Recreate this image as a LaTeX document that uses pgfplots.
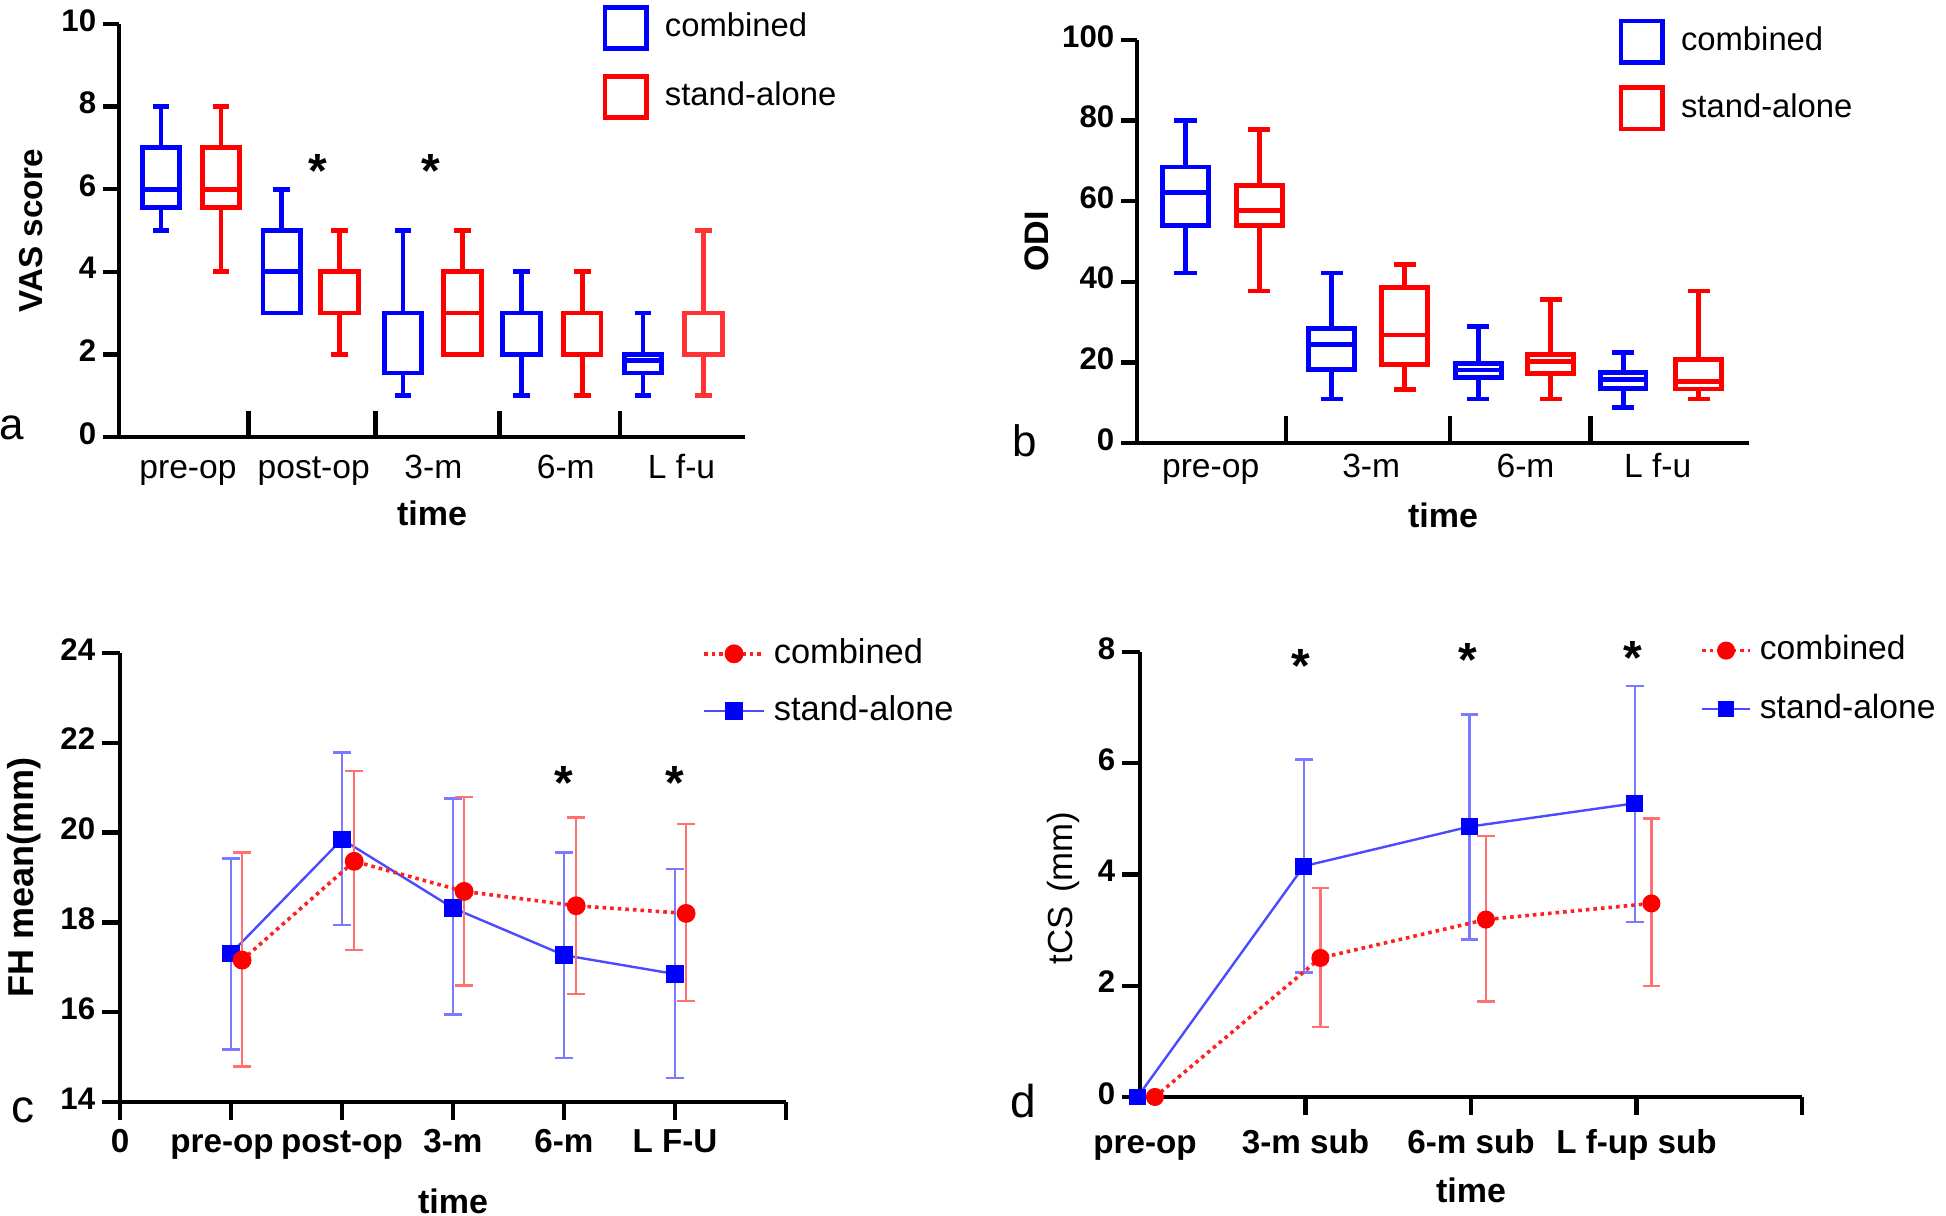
\documentclass[border=0pt]{standalone}
\usepackage{fontspec}
\setmainfont{Liberation Sans}
\usepackage{pgfplots}
\pgfplotsset{compat=1.18}
\usepgfplotslibrary{statistics}
\definecolor{cb}{HTML}{0000FF}
\definecolor{cr}{HTML}{FF0000}
\definecolor{cbl}{HTML}{4A4AFF}
\definecolor{cbe}{HTML}{7A7AFF}
\definecolor{crl}{HTML}{FF2020}
\definecolor{cre}{HTML}{FF7070}

\tikzset{astk/.style={font=\bfseries\fontsize{12}{12}\selectfont}}
\pgfplotsset{
  panel/.style={
    scale only axis, axis lines=left, axis line style={-, line width=1.2pt},
    clip=false, tick align=outside, xtick pos=bottom, ytick pos=left,
    major tick style={line width=1.1pt, black}, major tick length=4pt,
    /pgf/number format/assume math mode=true,
    typeset ticklabels with strut,
    yticklabel style={font=\bfseries\fontsize{7.8}{9}\selectfont, inner xsep=1.5pt},
    xticklabel style={font=\fontsize{8.4}{10}\selectfont},
    xlabel style={font=\bfseries\fontsize{8.5}{10}\selectfont, anchor=center},
    ylabel style={anchor=center},
    legend style={draw=none, fill=none, anchor=north west,
      font=\fontsize{8.2}{10}\selectfont, row sep=5pt},
    legend cell align=left,
  },
  bx/.style={line width=1.2pt, forget plot, boxplot/draw direction=y},
  boxleg/.style={legend image code/.code={\draw[#1,line width=1.2pt] (0pt,-5.2pt) rectangle (10.4pt,5.2pt); \path[draw=none] (10.4pt,0pt) -- (13pt,0pt);}},
}

\begin{document}
\begin{tikzpicture}
\path[use as bounding box] (0,0) rectangle (486.5pt,304pt);

% ---- a: VAS
\begin{axis}[panel, at={(29.75pt,194.75pt)}, anchor=south west,
  width=156.5pt, height=103.25pt,
  xmin=0, xmax=11.35, ymin=0, ymax=10, ytick={0,2,...,10},
  xtick={1.25,3.53,5.70,8.10,10.20}, xticklabels={pre-op,post-op,3-m,6-m,L f-u},
  xtick style={draw=none}, xticklabel style={yshift=4.2pt},
  extra x ticks={2.35,4.65,6.90,9.08}, extra x tick labels={},
  extra x tick style={major tick length=6.5pt, tick align=inside, xtick style={draw=black}},
  xlabel={time}, xlabel style={at={(axis description cs:0.5,-0.184)}},
  ylabel={\bfseries VAS score}, ylabel style={font=\fontsize{8.3}{10}\selectfont, at={(axis description cs:-0.141,0.5)}},
  legend style={at={(0.752,1.068)}, row sep=5.7pt}]
\addlegendimage{boxleg=cb}
\addlegendentry{combined}
\addlegendimage{boxleg=cr}
\addlegendentry{stand-alone}
\addplot[cb, bx, boxplot prepared={draw direction=y, draw position=0.76, lower whisker=5, lower quartile=5.55, median=6, upper quartile=7, upper whisker=8, box extend=0.68, whisker extend=0.3}] coordinates {};
\addplot[cr, bx, boxplot prepared={draw direction=y, draw position=1.85, lower whisker=4, lower quartile=5.55, median=6, upper quartile=7, upper whisker=8, box extend=0.68, whisker extend=0.3}] coordinates {};
\addplot[cb, bx, boxplot prepared={draw direction=y, draw position=2.95, lower whisker=3, lower quartile=3, median=4, upper quartile=5, upper whisker=6, box extend=0.68, whisker extend=0.3}] coordinates {};
\addplot[cr, bx, boxplot prepared={draw direction=y, draw position=4.00, lower whisker=2, lower quartile=3, median=3, upper quartile=4, upper whisker=5, box extend=0.68, whisker extend=0.3}] coordinates {};
\addplot[cb, bx, boxplot prepared={draw direction=y, draw position=5.15, lower whisker=1, lower quartile=1.55, median=3, upper quartile=3, upper whisker=5, box extend=0.68, whisker extend=0.3}] coordinates {};
\addplot[cr, bx, boxplot prepared={draw direction=y, draw position=6.23, lower whisker=2, lower quartile=2, median=3, upper quartile=4, upper whisker=5, box extend=0.68, whisker extend=0.3}] coordinates {};
\addplot[cb, bx, boxplot prepared={draw direction=y, draw position=7.30, lower whisker=1, lower quartile=2, median=2, upper quartile=3, upper whisker=4, box extend=0.68, whisker extend=0.3}] coordinates {};
\addplot[cr, bx, boxplot prepared={draw direction=y, draw position=8.40, lower whisker=1, lower quartile=2, median=2, upper quartile=3, upper whisker=4, box extend=0.68, whisker extend=0.3}] coordinates {};
\addplot[cb, bx, boxplot prepared={draw direction=y, draw position=9.50, lower whisker=1, lower quartile=1.55, median=1.85, upper quartile=2, upper whisker=3, box extend=0.68, whisker extend=0.3}] coordinates {};
\addplot[red!80!white, bx, boxplot prepared={draw direction=y, draw position=10.60, lower whisker=1, lower quartile=2, median=2, upper quartile=3, upper whisker=5, box extend=0.68, whisker extend=0.3}] coordinates {};
\node[astk] at (axis cs:3.60,6.45) {*};
\node[astk] at (axis cs:5.65,6.45) {*};
\end{axis}

% ---- b: ODI
\begin{axis}[panel, at={(284.25pt,193.25pt)}, anchor=south west,
  width=153pt, height=100.75pt,
  xmin=0, xmax=9.72, ymin=0, ymax=100, ytick={0,20,...,100},
  xtick={1.17,3.72,6.17,8.27}, xticklabels={pre-op,3-m,6-m,L f-u},
  xtick style={draw=none}, xticklabel style={yshift=6pt},
  extra x ticks={2.37,4.97,7.20}, extra x tick labels={},
  extra x tick style={major tick length=6.8pt, tick align=inside, xtick style={draw=black}},
  xlabel={time}, xlabel style={at={(axis description cs:0.5,-0.179)}},
  ylabel={\bfseries ODI}, ylabel style={font=\fontsize{8.5}{10}\selectfont, at={(axis description cs:-0.163,0.5)}},
  legend style={at={(0.766,1.075)}}]
\addlegendimage{boxleg=cb}
\addlegendentry{combined}
\addlegendimage{boxleg=cr}
\addlegendentry{stand-alone}
\addplot[cb, bx, boxplot prepared={draw direction=y, draw position=0.77, lower whisker=42.2, lower quartile=53.9, median=62.2, upper quartile=68.5, upper whisker=80, box extend=0.73, whisker extend=0.35}] coordinates {};
\addplot[cr, bx, boxplot prepared={draw direction=y, draw position=1.94, lower whisker=37.7, lower quartile=53.9, median=57.7, upper quartile=63.9, upper whisker=77.7, box extend=0.73, whisker extend=0.35}] coordinates {};
\addplot[cb, bx, boxplot prepared={draw direction=y, draw position=3.09, lower whisker=10.9, lower quartile=18.3, median=24.5, upper quartile=28.5, upper whisker=42.2, box extend=0.73, whisker extend=0.35}] coordinates {};
\addplot[cr, bx, boxplot prepared={draw direction=y, draw position=4.25, lower whisker=13.2, lower quartile=19.4, median=26.8, upper quartile=38.6, upper whisker=44.3, box extend=0.73, whisker extend=0.35}] coordinates {};
\addplot[cb, bx, boxplot prepared={draw direction=y, draw position=5.42, lower whisker=10.9, lower quartile=16.2, median=18.1, upper quartile=19.8, upper whisker=29, box extend=0.73, whisker extend=0.35}] coordinates {};
\addplot[cr, bx, boxplot prepared={draw direction=y, draw position=6.57, lower whisker=10.9, lower quartile=17.3, median=20.3, upper quartile=22, upper whisker=35.7, box extend=0.73, whisker extend=0.35}] coordinates {};
\addplot[cb, bx, boxplot prepared={draw direction=y, draw position=7.72, lower whisker=8.8, lower quartile=13.6, median=15.7, upper quartile=17.4, upper whisker=22.4, box extend=0.73, whisker extend=0.35}] coordinates {};
\addplot[cr, bx, boxplot prepared={draw direction=y, draw position=8.92, lower whisker=10.9, lower quartile=13.4, median=15.3, upper quartile=20.7, upper whisker=37.7, box extend=0.73, whisker extend=0.35}] coordinates {};
\end{axis}

% ---- c: FH
\begin{axis}[panel, at={(30pt,28.5pt)}, anchor=south west,
  width=166.5pt, height=112.25pt,
  xmin=0, xmax=6, ymin=14, ymax=24, ytick={14,16,...,24},
  xtick={0,...,6}, xticklabels={0,pre-op\hspace*{4.5pt},post-op,3-m,6-m,L F-U,{}},
  major tick length=4.5pt,
  xticklabel style={font=\bfseries\fontsize{8.3}{10}\selectfont, yshift=2.5pt},
  xlabel={time}, xlabel style={at={(axis description cs:0.5,-0.222)}},
  ylabel={\bfseries FH mean(mm)}, ylabel style={font=\fontsize{9}{10}\selectfont, at={(axis description cs:-0.144,0.5)}},
  legend style={at={(0.855,1.07)}, font=\fontsize{8.6}{10}\selectfont, row sep=2.5pt},
  legend image code/.code={\draw[mark repeat=2,mark phase=2] plot coordinates {(0pt,0pt) (7.5pt,0pt) (15pt,0pt)};},
  reverse legend]
\addplot[cbl, line width=0.6pt, mark=square*, mark size=1.9pt, mark options={solid, fill=cb, draw=cb},
  error bars/.cd, y dir=both, y explicit,
  error bar style={cbe, line width=0.6pt},
  error mark options={rotate=90, cbe, mark size=2.2pt, line width=0.6pt}]
  coordinates {(1,17.31) += (0,2.11) -= (0,2.14)
               (2,19.85) += (0,1.93) -= (0,1.91)
               (3,18.32) += (0,2.44) -= (0,2.37)
               (4,17.27) += (0,2.29) -= (0,2.29)
               (5,16.85) += (0,2.34) -= (0,2.32)};
\addlegendentry{stand-alone}
\addplot[crl, densely dotted, line width=0.9pt, mark=*, mark size=1.9pt, mark options={solid, fill=cr, draw=cr},
  error bars/.cd, y dir=both, y explicit,
  error bar style={cre, line width=0.6pt, solid},
  error mark options={rotate=90, cre, mark size=2.2pt, line width=0.6pt, solid}]
  coordinates {(1.1,17.16) += (0,2.40) -= (0,2.37)
               (2.11,19.36) += (0,2.01) -= (0,1.97)
               (3.1,18.69) += (0,2.10) -= (0,2.10)
               (4.11,18.37) += (0,1.97) -= (0,1.97)
               (5.1,18.20) += (0,1.99) -= (0,1.95)};
\addlegendentry{combined}
\node[astk] at (axis cs:4.0,21.1) {*};
\node[astk] at (axis cs:5.0,21.1) {*};
\end{axis}

% ---- d: tCS
\begin{axis}[panel, at={(285pt,29.75pt)}, anchor=south west,
  width=165.5pt, height=111.25pt,
  xmin=0, xmax=4, ymin=0, ymax=8, ytick={0,2,...,8},
  xtick={1,2,3,4}, xticklabels={3-m sub,6-m sub,L f-up sub,{}},
  extra x ticks={0.03}, extra x tick labels={pre-op},
  extra x tick style={xtick style={draw=none}},
  major tick length=4.5pt,
  xticklabel style={font=\bfseries\fontsize{8.3}{10}\selectfont, yshift=1pt},
  xlabel={time}, xlabel style={at={(axis description cs:0.5,-0.21)}},
  ylabel={tCS\hspace{3.3pt}(mm)}, ylabel style={font=\fontsize{8.7}{10}\selectfont, at={(axis description cs:-0.116,0.47)}},
  legend style={at={(0.827,1.075)}, font=\fontsize{8.4}{10}\selectfont, row sep=3pt},
  legend image code/.code={\draw[mark repeat=2,mark phase=2] plot coordinates {(0pt,0pt) (6pt,0pt) (12pt,0pt)};},
  reverse legend]
\addplot[cbl, line width=0.6pt, mark=square*, mark size=1.8pt, mark options={solid, fill=cb, draw=cb},
  error bars/.cd, y dir=both, y explicit,
  error bar style={cbe, line width=0.6pt},
  error mark options={rotate=90, cbe, mark size=2.2pt, line width=0.6pt}]
  coordinates {(-0.015,0) += (0,0) -= (0,0)
               (0.99,4.15) += (0,1.92) -= (0,1.91)
               (1.99,4.86) += (0,2.02) -= (0,2.03)
               (2.99,5.28) += (0,2.11) -= (0,2.13)};
\addlegendentry{stand-alone}
\addplot[crl, densely dotted, line width=0.9pt, mark=*, mark size=1.8pt, mark options={solid, fill=cr, draw=cr},
  error bars/.cd, y dir=both, y explicit,
  error bar style={cre, line width=0.6pt, solid},
  error mark options={rotate=90, cre, mark size=2.2pt, line width=0.6pt, solid}]
  coordinates {(0.09,0) += (0,0) -= (0,0)
               (1.09,2.50) += (0,1.26) -= (0,1.24)
               (2.09,3.19) += (0,1.50) -= (0,1.47)
               (3.09,3.48) += (0,1.53) -= (0,1.49)};
\addlegendentry{combined}
\node[astk] at (axis cs:0.97,7.75) {*};
\node[astk] at (axis cs:1.98,7.85) {*};
\node[astk] at (axis cs:2.98,7.9) {*};
\end{axis}

\node[font=\fontsize{11}{12}\selectfont] at (3pt,197pt) {a};
\node[font=\fontsize{11}{12}\selectfont] at (256.25pt,193.75pt) {b};
\node[font=\fontsize{11.5}{12}\selectfont] at (5.75pt,26.5pt) {c};
\node[font=\fontsize{11.5}{12}\selectfont] at (255.75pt,28.75pt) {d};
\end{tikzpicture}
\end{document}
